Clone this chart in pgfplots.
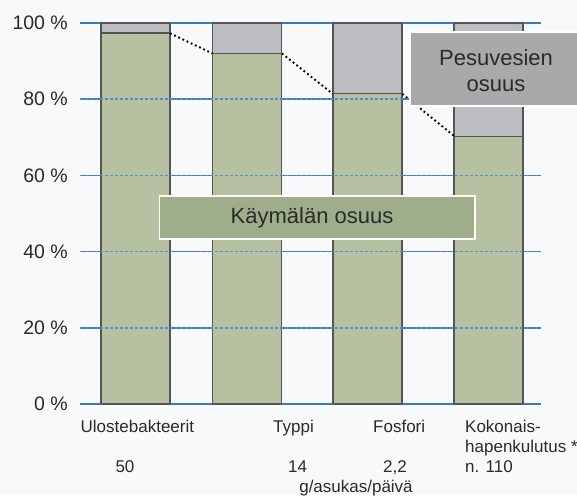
\documentclass[border=0pt]{standalone}
\usepackage{pgfplots}
\pgfplotsset{compat=1.18}
\usepackage{fontspec}
\setmainfont{Liberation Sans}
\definecolor{barGreen}{HTML}{B6C1A1}
\definecolor{barGray}{HTML}{BDBEC2}
\definecolor{boxGreen}{HTML}{9FAE8A}
\definecolor{boxGray}{HTML}{A8A9AB}
\definecolor{gridBlue}{HTML}{3A78C0}
\definecolor{dotBlue}{HTML}{4F8AD6}
\definecolor{edge}{HTML}{555555}
\definecolor{txt}{HTML}{2A2A2A}
\definecolor{bg}{HTML}{F7F9FB}
\begin{document}
\begin{tikzpicture}[x=1pt,y=1pt]
\fill[bg] (0,0) rectangle (577,495);
\path[use as bounding box] (0,0) rectangle (577,495);
\begin{axis}[
  at={(80pt,91pt)}, anchor=south west,
  scale only axis, width=461pt, height=381pt,
  xmin=80, xmax=541, ymin=0, ymax=100,
  axis line style={draw=none},
  xtick=\empty,
  ytick={0,20,40,60,80,100},
  ymajorgrids,
  major grid style={gridBlue, line width=1.4pt},
  major tick length=0pt,
  clip=false,
  /pgf/number format/assume math mode=true,
  yticklabel={\pgfmathprintnumber{\tick} \%},
  yticklabel style={font=\fontsize{19.5}{22}\selectfont, text=txt, inner sep=0pt, xshift=-12pt},
]
\addplot[ybar, bar width=69, bar shift=0pt, fill=barGray, draw=edge, line width=1.2pt, forget plot]
  coordinates {(135.5,100)(247.25,100)(367.5,100)(488.5,100)};
\addplot[ybar, bar width=69, bar shift=0pt, fill=barGreen, draw=edge, line width=1.2pt, forget plot]
  coordinates {(135.5,97.3)(247.25,92)(367.5,81.4)(488.5,70.3)};
\addplot[edge, line width=2.2pt, forget plot] coordinates {(101,97.3)(170,97.3)};
% dotted grid over bars
\addplot[dotBlue, dash pattern=on 2.5pt off 2.5pt, line width=1.4pt, forget plot] coordinates {(80,20)(541,20)};
\addplot[dotBlue, dash pattern=on 2.5pt off 2.5pt, line width=1.4pt, forget plot] coordinates {(80,40)(541,40)};
\addplot[dotBlue, dash pattern=on 2.5pt off 2.5pt, line width=1.4pt, forget plot] coordinates {(80,60)(541,60)};
\addplot[dotBlue, dash pattern=on 2.5pt off 2.5pt, line width=1.4pt, forget plot] coordinates {(80,80)(541,80)};
% connecting dotted lines
\addplot[black, line width=1.9pt, dash pattern=on 1.8pt off 2.8pt, forget plot] coordinates {(170,97.3)(212.5,92)};
\addplot[black, line width=1.9pt, dash pattern=on 1.8pt off 2.8pt, forget plot] coordinates {(282,92)(332.7,81.4)};
\addplot[black, line width=1.9pt, dash pattern=on 1.8pt off 2.8pt, forget plot] coordinates {(402.3,81.4)(454.3,70.3)};
% boxes
\draw[fill=boxGreen, draw=white, line width=1.5pt] (axis cs:159.5,54.6) rectangle (axis cs:475,43.3);
\node[text=txt, font=\fontsize{22}{26}\selectfont] at (axis cs:312,48.9) {Käymälän osuus};
\draw[fill=boxGray, draw=white, line width=1.5pt] (axis cs:410,97.6) rectangle (axis cs:580,78.2);
\node[text=txt, font=\fontsize{22}{26}\selectfont, align=center] at (axis cs:496,87.6) {Pesuvesien\\osuus};
% bottom labels
\begin{scope}[every node/.style={text=txt, font=\fontsize{17}{20}\selectfont, inner sep=0pt}]
\node[anchor=base west] at (axis cs:80.5,-7.35) {Ulostebakteerit};
\node[anchor=base west] at (axis cs:273,-7.35) {Typpi};
\node[anchor=base west] at (axis cs:373,-7.35) {Fosfori};
\node[anchor=base west] at (axis cs:465,-7.35) {Kokonais-};
\node[anchor=base west] at (axis cs:465,-12.6) {hapenkulutus *};
\node[anchor=base] at (axis cs:125,-18.1) {50};
\node[anchor=base] at (axis cs:297.5,-18.1) {14};
\node[anchor=base] at (axis cs:395,-18.1) {2,2};
\node[anchor=base west] at (axis cs:465,-18.1) {n. 110};
\node[anchor=base] at (axis cs:356,-23.1) {g/asukas/päivä};
\end{scope}
\end{axis}
\end{tikzpicture}
\end{document}
